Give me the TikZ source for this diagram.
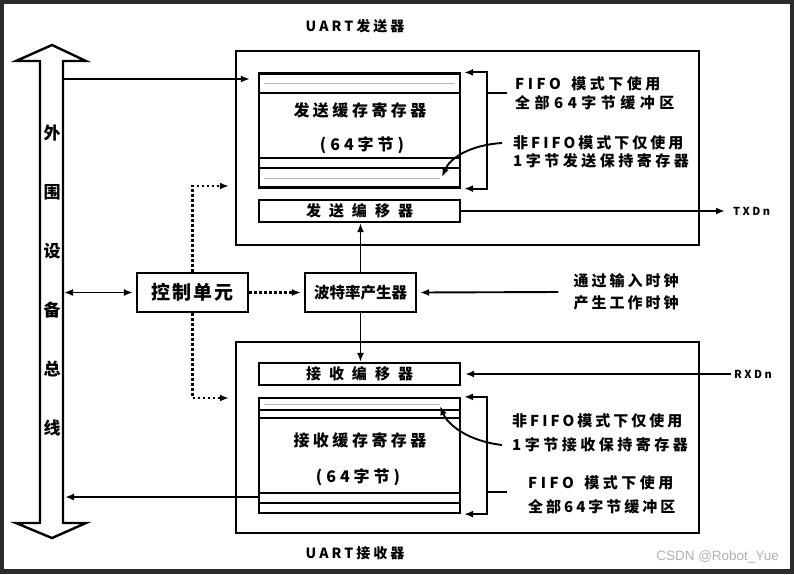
\documentclass[tikz,border=0pt]{standalone}
\usepackage{fontspec}
\usetikzlibrary{arrows.meta}
\newfontfamily\cjk{Noto Sans CJK SC}
\newfontfamily\wmfont{Liberation Sans}
\definecolor{shot}{HTML}{2B2B2B}
% glyphs set apart by a gap
\def\sprgap{0pt}
\newcommand\gapped[2]{\def\sprgap{#1}\sprfirst#2\relax}
\def\sprfirst#1{#1\sprloop}
\def\sprloop#1{\ifx#1\relax\else\hspace{\sprgap}#1\expandafter\sprloop\fi}

\begin{document}
\begin{tikzpicture}[x=1pt, y=-1pt,
  box/.style={draw, line width=2.2pt, inner sep=0pt},
  part/.style={box, minimum width=463pt},
  buf/.style={box, minimum width=201pt, minimum height=114pt},
  shreg/.style={box, minimum width=201pt, minimum height=22pt,
                font=\cjk\bfseries\fontsize{15}{18}\selectfont},
  unit/.style={box, minimum width=111pt, minimum height=39pt},
  lbl/.style={inner sep=0pt, font=\cjk\bfseries\fontsize{16}{18}\selectfont},
  side/.style={anchor=west, inner sep=0pt, font=\cjk\bfseries\fontsize{15}{18}\selectfont},
  pin/.style={anchor=west, inner sep=0pt, font=\cjk\bfseries\fontsize{11}{12}\selectfont},
  arr/.style={-{Latex[length=9pt,width=7pt]}, line width=1.9pt},
  dotarr/.style={arr, dash pattern=on 2.5pt off 2.5pt, line width=2.2pt},
]
  % screenshot frame
  \fill[shot] (0,0) rectangle (794,574);
  \fill[white] (4,4) rectangle (790,569);
  \useasboundingbox (0,0) rectangle (794,574);

  % peripheral bus (left)
  \draw[line width=2.4pt, line join=miter]
    (40,61) -- (16,61) -- (52,45) -- (86,61) -- (63,61) -- (63,523)
    -- (86,523) -- (52,538) -- (16,523) -- (40,523) -- cycle;
  \foreach \ch [count=\i] in {外,围,设,备,总,线}
    \node[lbl, font=\cjk\bfseries\fontsize{17}{18}\selectfont] (bus\i) at (52,{133+59*(\i-1)}) {\ch};
  \coordinate (busT) at (63,79);
  \coordinate (busC) at (63,292.5);
  \coordinate (busR) at (63,497);

  % UART transmitter (top)
  \node[part, minimum height=194pt] (tx) at (467.5,148) {};
  \node[lbl, font=\cjk\bfseries\fontsize{14}{18}\selectfont] (txname) at (355,26) {\gapped{3pt}{UART发送器}};
  \node[buf] (txbuf) at (359.5,130.5) {};
  \draw[line width=2.2pt] (259,93) -- (460,93) (259,158) -- (460,158) (259,168) -- (460,168);
  \draw[gray!55, line width=1pt] (264,83) -- (455,83) (264,178) -- (440,178);
  \node[lbl] (txbufname) at (360,110) {\gapped{3.5pt}{发送缓存寄存器}};
  \node[lbl] (txbufsize) at (362,145) {\gapped{4pt}{(64字节)}};
  \node[shreg] (txsh) at (359.5,211) {\gapped{8pt}{发送编移器}};

  % UART receiver (bottom)
  \node[part, minimum height=191pt] (rx) at (467.5,437.5) {};
  \node[lbl, font=\cjk\bfseries\fontsize{14}{18}\selectfont] (rxname) at (355,553) {\gapped{3pt}{UART接收器}};
  \node[shreg] (rxsh) at (359.5,374) {\gapped{8pt}{接收编移器}};
  \node[buf, minimum height=115pt] (rxbuf) at (359.5,455.5) {};
  \draw[line width=2.2pt] (259,410) -- (460,410) (259,418) -- (460,418) (259,493) -- (460,493) (259,503) -- (460,503);
  \draw[gray!55, line width=1pt] (264,404.5) -- (440,404.5);
  \node[lbl] (rxbufname) at (360,440) {\gapped{3.5pt}{接收缓存寄存器}};
  \node[lbl] (rxbufsize) at (358,477) {\gapped{4pt}{(64字节)}};

  % control + baud rate
  \node[unit, font=\cjk\bfseries\fontsize{19}{20}\selectfont] (ctrl) at (192.5,292.5) {\gapped{2pt}{控制单元}};
  \node[unit, font=\cjk\bfseries\fontsize{15.5}{18}\selectfont] (baud) at (360.5,292.5) {波特率产生器};
  \node[lbl, align=center, font=\cjk\bfseries\fontsize{15}{22}\selectfont] (clk) at (626,292)
    {\gapped{3pt}{通过输入时钟}\\\gapped{3pt}{产生工作时钟}};

  % notes on the buffers
  \node[side] (txfifo1) at (515,84) {\gapped{3.5pt}{FIFO~模式下使用}};
  \node[side] (txfifo2) at (515,103) {\gapped{4.5pt}{全部64字节缓冲区}};
  \node[side] (txone1) at (513,143) {\gapped{3pt}{非FIFO模式下仅使用}};
  \node[side] (txone2) at (513,161) {\gapped{3.5pt}{1字节发送保持寄存器}};
  \node[side] (rxone1) at (512,421) {\gapped{3pt}{非FIFO模式下仅使用}};
  \node[side] (rxone2) at (512,445) {\gapped{3.5pt}{1字节接收保持寄存器}};
  \node[side] (rxfifo1) at (528,483) {\gapped{3.5pt}{FIFO~模式下使用}};
  \node[side] (rxfifo2) at (528,507) {\gapped{3pt}{全部64字节缓冲区}};

  % pins
  \node[pin] (txd) at (733,211) {\gapped{2.5pt}{TXDn}};
  \node[pin] (rxd) at (734,374) {\gapped{2.5pt}{RXDn}};

  % connectors
  \draw[arr, shorten >=8pt] (busT) -- (busT -| txbuf.west);
  \draw[arr, {Latex[length=9pt,width=7pt]}-{Latex[length=9pt,width=7pt]}, shorten >=3pt, shorten <=1pt] (busC) -- (ctrl.west);
  \draw[dotarr, shorten >=3pt] (ctrl) -- (baud);
  \draw[dotarr, shorten >=6pt] (ctrl.north) |- (tx.west |- 0,186);
  \draw[dotarr, shorten >=6pt] (ctrl.south) |- (rx.west |- 0,398);
  \draw[arr] (baud.north) -- (baud.north |- txsh.south);
  \draw[arr] (baud.south) -- (baud.south |- rxsh.north);
  \draw[arr, shorten >=3pt] ([xshift=-15pt]clk.west) -- (baud.east);
  \draw[arr, shorten >=8pt] (txsh) -- (txd.west);
  \draw[arr, shorten >=4pt] ([xshift=-3pt]rxd.west) -- (rxsh.east);
  \draw[arr, shorten >=2pt] (rxbuf.west |- busR) -- (busR);

  % brackets and pointers
  \coordinate (txbrk) at (487,93);
  \draw[arr, shorten >=3pt] (txbrk) |- (txbuf.north east);
  \draw[arr, shorten >=3pt] (txbrk) |- (txbuf.south east);
  \draw[line width=1.9pt] (txbrk) -- (507,93);
  \coordinate (rxbrk) at (487,492);
  \draw[arr, shorten >=3pt] (rxbrk) |- (rxbuf.north east);
  \draw[arr, shorten >=3pt] (rxbrk) |- (rxbuf.south east);
  \draw[line width=1.9pt] (rxbrk) -- (507,492);
  \draw[arr] ([xshift=-11pt]txone1.west) .. controls (470,145) and (450,158) .. (442,177);
  \draw[arr] ([xshift=-10pt]rxone2.west) .. controls (468,441) and (448,425) .. (440,406);

  % watermark
  \node[anchor=east, inner sep=0pt, text=gray!60, font=\wmfont\fontsize{13.5}{16}\selectfont] (mark) at (779,557) {CSDN @Robot\_Yue};
\end{tikzpicture}
\end{document}
